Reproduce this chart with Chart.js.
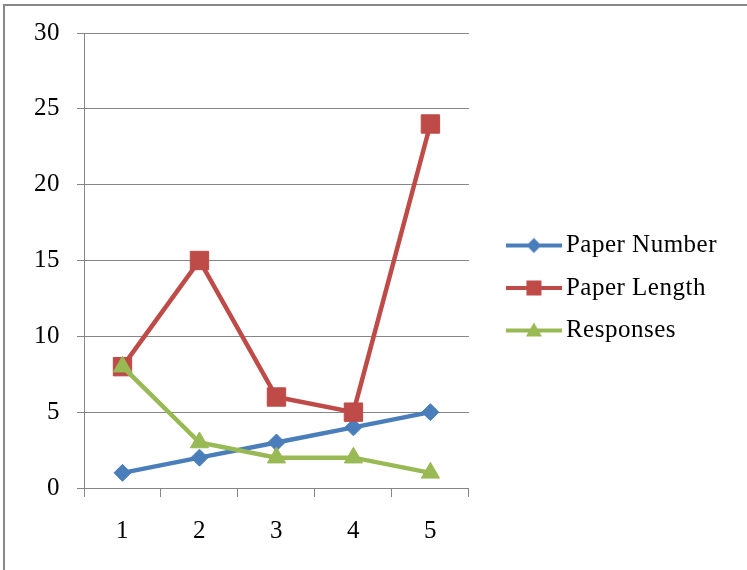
<!DOCTYPE html>
<html>
<head>
<meta charset="utf-8">
<script src="https://cdn.jsdelivr.net/npm/chart.js@4/dist/chart.umd.min.js"></script>
<style>
  html, body { margin: 0; padding: 0; background: #fff; }
  canvas { display: block; }
</style>
</head>
<body>
<canvas id="chart" width="747" height="570"></canvas>
<script>
// Data
const categories = ['1', '2', '3', '4', '5'];
const paperNumber = [1, 2, 3, 4, 5];
const paperLength = [8, 15, 6, 5, 24];
const responses = [8, 3, 2, 2, 1];
const yTicks = [0, 5, 10, 15, 20, 25, 30];
const seriesNames = ['Paper Number', 'Paper Length', 'Responses'];

const BLUE = '#4a7ebb';
const RED = '#be4b48';
const GREEN = '#98b954';
const GRID = '#868686';
const FONT = { family: '"Liberation Serif", "Times New Roman", serif', size: 25 };

// Legend icon: a short line with the series marker in its middle
function legendIcon(color, shape) {
  const c = document.createElement('canvas');
  c.width = 84; c.height = 24;
  const g = c.getContext('2d');
  g.strokeStyle = color; g.fillStyle = color; g.lineWidth = 4;
  g.beginPath(); g.moveTo(28, 12); g.lineTo(84, 12); g.stroke();
  const cx = 56, cy = 12;
  g.beginPath();
  if (shape === 'rectRot') {
    g.moveTo(cx, cy - 7.5); g.lineTo(cx + 7.5, cy); g.lineTo(cx, cy + 7.5); g.lineTo(cx - 7.5, cy);
  } else if (shape === 'rect') {
    g.rect(cx - 7.5, cy - 7.5, 15, 15);
  } else {
    g.moveTo(cx, cy - 8); g.lineTo(cx + 8, cy + 6); g.lineTo(cx - 8, cy + 6);
  }
  g.closePath(); g.fill();
  return c;
}

const icons = [legendIcon(BLUE, 'rectRot'), legendIcon(RED, 'rect'), legendIcon(GREEN, 'triangle')];

// Letter spacing used by the serif labels
const spacingPlugin = {
  id: 'spacing',
  beforeUpdate(chart) { chart.ctx.letterSpacing = '0.5px'; },
  beforeDraw(chart) { chart.ctx.letterSpacing = '0.5px'; }
};

// Lift the legend block slightly above the vertical centre
const legendShift = {
  id: 'legendShift',
  afterLayout(chart) {
    const l = chart.legend;
    if (l) { l.top -= 11; l.bottom -= 11; }
  }
};

// Grey frame along the top and left edges
const framePlugin = {
  id: 'frame',
  afterDraw(chart) {
    const ctx = chart.ctx;
    ctx.save();
    ctx.strokeStyle = '#888888';
    ctx.lineWidth = 2;
    ctx.strokeRect(4, 5, 900, 800);
    ctx.restore();
  }
};

new Chart(document.getElementById('chart'), {
  type: 'line',
  data: {
    labels: categories,
    datasets: [
      { label: seriesNames[0], data: paperNumber, borderColor: BLUE, backgroundColor: BLUE,
        borderWidth: 4.5, pointStyle: 'rectRot', pointRadius: 8.5, pointBorderWidth: 1, order: 3 },
      { label: seriesNames[1], data: paperLength, borderColor: RED, backgroundColor: RED,
        borderWidth: 4.5, pointStyle: 'rect', pointRadius: 13, pointBorderWidth: 1, order: 2 },
      { label: seriesNames[2], data: responses, borderColor: GREEN, backgroundColor: GREEN,
        borderWidth: 4.5, pointStyle: 'triangle', pointRadius: 10.5, pointBorderWidth: 1, order: 1 }
    ]
  },
  options: {
    responsive: false,
    animation: false,
    devicePixelRatio: 1,
    layout: { padding: { left: 17, top: 33, right: 20, bottom: 5 } },
    plugins: {
      tooltip: { enabled: false },
      legend: {
        position: 'right',
        maxWidth: 320,
        labels: {
          usePointStyle: true,
          pointStyleWidth: 67,
          padding: 17.5,
          color: '#000',
          font: FONT,
          generateLabels(chart) {
            return chart.data.datasets.map((ds, i) => ({
              text: ds.label,
              pointStyle: icons[i],
              fillStyle: ds.borderColor,
              strokeStyle: ds.borderColor,
              lineWidth: 0,
              hidden: false,
              fontColor: '#000',
              datasetIndex: i
            }));
          }
        }
      }
    },
    scales: {
      x: {
        type: 'category',
        offset: true,
        grid: { offset: true, drawOnChartArea: false, drawTicks: true, tickLength: 9, color: GRID },
        border: { color: GRID, width: 1 },
        ticks: { padding: 19, color: '#000', font: FONT }
      },
      y: {
        min: 0,
        max: 30,
        afterBuildTicks(axis) { axis.ticks = yTicks.map(v => ({ value: v })); },
        grid: { color: GRID, tickLength: 7 },
        border: { color: GRID, width: 1 },
        ticks: { padding: 17, color: '#000', font: FONT }
      }
    }
  },
  plugins: [spacingPlugin, legendShift, framePlugin]
});
</script>
</body>
</html>
